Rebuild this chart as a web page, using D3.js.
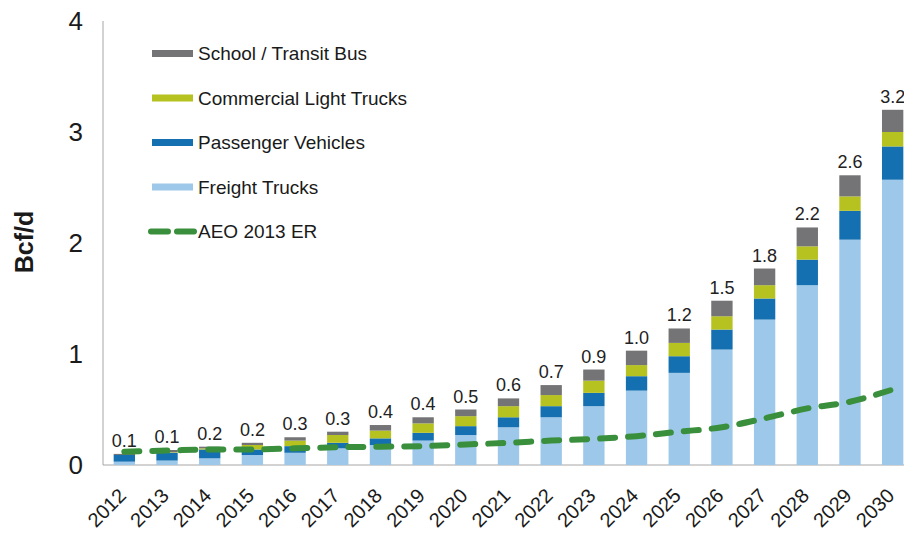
<!DOCTYPE html>
<html>
<head>
<meta charset="utf-8">
<script src="https://cdn.jsdelivr.net/npm/d3@7"></script>
<style>
  body { margin: 0; background: #fff; }
  svg { display: block; font-family: "Liberation Sans", Arial, sans-serif; }
</style>
</head>
<body>
<div id="chart"></div>
<script>
const years = ['2012','2013','2014','2015','2016','2017','2018','2019','2020','2021',
               '2022','2023','2024','2025','2026','2027','2028','2029','2030'];
const freightTrucks     = [0.03,0.04,0.06,0.09,0.11,0.15,0.18,0.22,0.27,0.34,0.43,0.53,0.67,0.83,1.04,1.31,1.62,2.03,2.57];
const passengerVehicles = [0.06,0.07,0.08,0.05,0.06,0.05,0.06,0.07,0.08,0.09,0.10,0.12,0.13,0.15,0.18,0.19,0.23,0.26,0.30];
const commercialLight   = [0.00,0.005,0.01,0.04,0.05,0.07,0.07,0.085,0.09,0.10,0.10,0.11,0.10,0.12,0.12,0.12,0.12,0.13,0.13];
const transitBus        = [0.01,0.02,0.015,0.02,0.03,0.03,0.05,0.055,0.06,0.07,0.09,0.10,0.13,0.13,0.14,0.15,0.17,0.19,0.20];
const aeo2013ER         = [0.12,0.13,0.14,0.14,0.15,0.16,0.165,0.17,0.185,0.20,0.22,0.235,0.26,0.30,0.34,0.42,0.51,0.57,0.68];
const totalLabels = ['0.1','0.1','0.2','0.2','0.3','0.3','0.4','0.4','0.5','0.6',
                     '0.7','0.9','1.0','1.2','1.5','1.8','2.2','2.6','3.2'];
const yTicks = [0, 1, 2, 3, 4];

const seriesKeys = ['freight', 'passenger', 'commercial', 'bus'];
const colors = { freight: '#9dc8ea', passenger: '#1570b2', commercial: '#b6c21f', bus: '#747476' };
const green = '#3a8f3d';

const width = 904, height = 533;

const table = years.map((y, i) => ({
  year: y,
  freight: freightTrucks[i],
  passenger: passengerVehicles[i],
  commercial: commercialLight[i],
  bus: transitBus[i],
  aeo: aeo2013ER[i],
  label: totalLabels[i]
}));

const svg = d3.select('#chart').append('svg')
  .attr('width', width)
  .attr('height', height);

const x = d3.scaleBand()
  .domain(years)
  .range([103, 914])
  .paddingInner(0.5)
  .paddingOuter(0.25);

const y = d3.scaleLinear()
  .domain([0, 4])
  .range([465, 21]);

// axes lines
svg.append('line')
  .attr('x1', 103).attr('x2', 103)
  .attr('y1', y(4)).attr('y2', y(0))
  .attr('stroke', '#a6a6a6').attr('stroke-width', 1);

svg.append('line')
  .attr('x1', 103).attr('x2', width)
  .attr('y1', y(0)).attr('y2', y(0))
  .attr('stroke', '#a6a6a6').attr('stroke-width', 1);

// y tick labels
svg.append('g').selectAll('text')
  .data(yTicks)
  .join('text')
  .attr('x', 83)
  .attr('y', d => y(d))
  .attr('dy', '0.36em')
  .attr('text-anchor', 'end')
  .attr('font-size', 26)
  .attr('fill', '#1a1a1a')
  .text(d => d);

svg.append('text')
  .attr('transform', 'translate(33,242) rotate(-90)')
  .attr('text-anchor', 'middle')
  .attr('font-size', 25)
  .attr('font-weight', 'bold')
  .attr('fill', '#1a1a1a')
  .text('Bcf/d');

// x tick labels
svg.append('g').selectAll('text')
  .data(years)
  .join('text')
  .attr('transform', d => `translate(${x(d) + x.bandwidth() / 2 + 3},497) rotate(-45)`)
  .attr('text-anchor', 'end')
  .attr('font-size', 20)
  .attr('fill', '#1a1a1a')
  .text(d => d);

// stacked bars
const stack = d3.stack().keys(seriesKeys);
const layers = stack(table);

svg.append('g').selectAll('g')
  .data(layers)
  .join('g')
  .attr('fill', d => colors[d.key])
  .selectAll('rect')
  .data(d => d)
  .join('rect')
  .attr('x', d => x(d.data.year))
  .attr('width', x.bandwidth())
  .attr('y', d => y(d[1]))
  .attr('height', d => Math.max(0, y(d[0]) - y(d[1])));

// AEO 2013 ER dashed line
const line = d3.line()
  .x(d => x(d.year) + x.bandwidth() / 2)
  .y(d => y(d.aeo))
  .curve(d3.curveMonotoneX);

svg.append('path')
  .datum(table)
  .attr('d', line)
  .attr('fill', 'none')
  .attr('stroke', green)
  .attr('stroke-width', 6)
  .attr('stroke-linecap', 'round')
  .attr('stroke-dasharray', '15,13');

// total labels
svg.append('g').selectAll('text')
  .data(table)
  .join('text')
  .attr('x', d => x(d.year) + x.bandwidth() / 2)
  .attr('y', d => y(d.freight + d.passenger + d.commercial + d.bus) - 7)
  .attr('text-anchor', 'middle')
  .attr('font-size', 18)
  .attr('fill', '#222')
  .text(d => d.label);

// legend
const legendItems = [
  { name: 'School / Transit Bus', color: colors.bus, dashed: false },
  { name: 'Commercial Light Trucks', color: colors.commercial, dashed: false },
  { name: 'Passenger Vehicles', color: colors.passenger, dashed: false },
  { name: 'Freight Trucks', color: colors.freight, dashed: false },
  { name: 'AEO 2013 ER', color: green, dashed: true }
];

const legend = svg.append('g')
  .selectAll('g')
  .data(legendItems)
  .join('g')
  .attr('transform', (d, i) => `translate(152,${53.5 + i * 44.5})`);

legend.filter(d => !d.dashed).append('rect')
  .attr('x', 0).attr('y', -3.5)
  .attr('width', 41).attr('height', 7)
  .attr('fill', d => d.color);

legend.filter(d => d.dashed).append('line')
  .attr('x1', -1).attr('x2', 42)
  .attr('y1', 0).attr('y2', 0)
  .attr('stroke', d => d.color)
  .attr('stroke-width', 6)
  .attr('stroke-linecap', 'round')
  .attr('stroke-dasharray', '17,9');

legend.append('text')
  .attr('x', 46)
  .attr('dy', '0.35em')
  .attr('font-size', 19)
  .attr('fill', '#1a1a1a')
  .text(d => d.name);
</script>
</body>
</html>
